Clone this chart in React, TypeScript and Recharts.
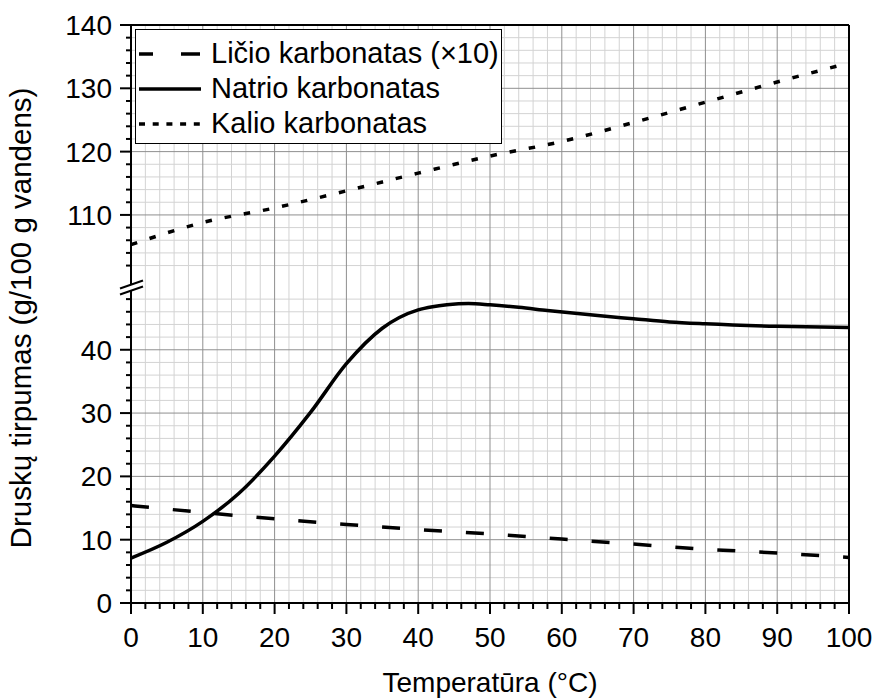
import {
  LineChart, Line, XAxis, YAxis, CartesianGrid, ReferenceLine, ReferenceDot, Legend,
} from 'recharts';

// Temperature (°C) and solubility (g / 100 g water)
const liTemps = [0, 10, 20, 30, 40, 50, 60, 70, 80, 90, 100];
const liValues = [15.4, 14.3, 13.3, 12.4, 11.6, 10.9, 10.1, 9.3, 8.5, 7.9, 7.2];

const naTemps = [0, 5, 10, 15, 20, 25, 30, 35, 40, 42, 44, 47, 50, 54, 58, 65, 70, 75, 80, 90, 100];
const naValues = [7.1, 9.6, 12.9, 17.3, 23.2, 30.1, 37.8, 43.4, 46.3, 46.8, 47.1, 47.3, 47.1, 46.7, 46.2, 45.4, 44.9, 44.4, 44.1, 43.7, 43.5];

const kTemps = [0, 10, 20, 30, 40, 50, 60, 70, 80, 90, 100];
const kValues = [105.3, 108.8, 111.1, 113.8, 116.6, 119.3, 121.6, 124.6, 127.8, 131.0, 134.0];

const xMajorTicks = [0, 10, 20, 30, 40, 50, 60, 70, 80, 90, 100];
const yLowerMajor = [0, 10, 20, 30, 40];
const yUpperMajor = [110, 120, 130, 140];

const seriesNames = ['Ličio karbonatas (×10)', 'Natrio karbonatas', 'Kalio karbonatas'];

// broken y axis: 0..50 drawn as is, 100..140 pulled down next to it
const BREAK_SHIFT = 48.7;
const yPos = (v: number) => (v >= 100 ? v - BREAK_SHIFT : v);
const yReal = (p: number) => Math.round(p > 50 ? p + BREAK_SHIFT : p);

const range = (from: number, to: number, step: number) => {
  const out: number[] = [];
  for (let v = from; v <= to + 1e-9; v += step) out.push(v);
  return out;
};

const xTicks = range(0, 100, 2);
const yTickValues = [...range(0, 48, 2), ...range(102, 140, 2)];
const yTicks = yTickValues.map(yPos);

const xMinorGrid = range(2, 98, 2).filter((v) => !xMajorTicks.includes(v));
const xMajorGrid = xMajorTicks.filter((v) => v > 0 && v < 100);
const yMinorGrid = yTickValues.filter((v) => v % 10 !== 0 && v !== 0).map(yPos);
const yMajorGrid = [...yLowerMajor, ...yUpperMajor].filter((v) => v > 0 && v < 140).map(yPos);

const toRows = (temps: number[], vals: number[]) =>
  temps.map((t, i) => ({ t, v: yPos(vals[i]) }));

const liData = toRows(liTemps, liValues);
const naData = toRows(naTemps, naValues);
const kData = toRows(kTemps, kValues);

const LI_DASH = '18 24';
const K_DASH = '6.5 13';
const FONT = '"Liberation Sans", Arial, sans-serif';

function XTick({ x, y, payload }: any) {
  const v = payload.value;
  const major = v % 10 === 0;
  return (
    <g>
      <line x1={x} x2={x} y1={y} y2={y + (major ? 11 : 6)} stroke="#000" strokeWidth={2} />
      {major && (
        <text x={x} y={y + 44} textAnchor="middle" fontSize={28} fill="#000" fontFamily={FONT}>
          {v}
        </text>
      )}
    </g>
  );
}

function YTick({ x, y, payload }: any) {
  const v = yReal(payload.value);
  const major = v % 10 === 0;
  return (
    <g>
      <line x1={x - (major ? 11 : 5)} x2={x} y1={y} y2={y} stroke="#000" strokeWidth={2} />
      {major && (
        <text x={x - 19} y={y + 10} textAnchor="end" fontSize={28} fill="#000" fontFamily={FONT}>
          {v}
        </text>
      )}
    </g>
  );
}

function BreakMark({ cx, cy }: any) {
  const up = (px: number) => cy + 2 - (8 * (px - (cx - 11))) / 23;
  const a = cx - 3;
  const b = cx + 3;
  return (
    <g>
      <polygon points={`${a},${up(a)} ${b},${up(b)} ${b},${up(b) + 6} ${a},${up(a) + 6}`} fill="#fff" />
      <line x1={cx - 11} y1={up(cx - 11)} x2={cx + 12} y2={up(cx + 12)} stroke="#000" strokeWidth={2} />
      <line x1={cx - 11} y1={up(cx - 11) + 6} x2={cx + 12} y2={up(cx + 12) + 6} stroke="#000" strokeWidth={2} />
    </g>
  );
}

function LegendBox() {
  const dashes = ['14 28 19', undefined, '6 7.7'];
  return (
    <div
      style={{
        width: 367, height: 115, boxSizing: 'border-box', border: '1px solid #000',
        background: '#fff', padding: '6px 0 2px 3px', fontFamily: FONT,
      }}
    >
      {seriesNames.map((name, i) => (
        <div key={name} style={{ display: 'flex', alignItems: 'center', height: 35 }}>
          <svg width={62} height={10} style={{ display: 'block' }}>
            <line x1={0} y1={5} x2={62} y2={5} stroke="#000" strokeWidth={3.5} strokeDasharray={dashes[i]} />
          </svg>
          <span style={{ marginLeft: 10, fontSize: 29, lineHeight: '35px', color: '#000', whiteSpace: 'nowrap' }}>
            {name}
          </span>
        </div>
      ))}
    </div>
  );
}

export default function App() {
  return (
    <div
      style={{
        position: 'absolute', left: 0, top: 0, width: 875, height: 699,
        background: '#fff', fontFamily: FONT,
      }}
    >
      <LineChart width={875} height={699} margin={{ top: 25, right: 26, bottom: 0, left: 0 }}>
        <CartesianGrid
          stroke="#d3d3d3"
          strokeWidth={1}
          horizontalValues={yMinorGrid}
          verticalValues={xMinorGrid}
        />
        <CartesianGrid
          stroke="#8f8f8f"
          strokeWidth={1}
          horizontalValues={yMajorGrid}
          verticalValues={xMajorGrid}
        />
        <XAxis
          dataKey="t"
          type="number"
          domain={[0, 100]}
          ticks={xTicks}
          interval={0}
          tickSize={0}
          tickMargin={0}
          tickLine={false}
          tick={<XTick />}
          height={96}
          axisLine={{ stroke: '#000', strokeWidth: 2 }}
          label={{ value: 'Temperatūra (°C)', position: 'insideBottom', offset: 7, fontSize: 28, fill: '#000' }}
        />
        <YAxis
          type="number"
          domain={[0, yPos(140)]}
          ticks={yTicks}
          interval={0}
          width={131}
          tickSize={0}
          tickMargin={0}
          tickLine={false}
          tick={<YTick />}
          axisLine={{ stroke: '#000', strokeWidth: 2 }}
          label={{
            value: 'Druskų tirpumas (g/100 g vandens)', angle: -90, position: 'insideLeft',
            offset: 21, dy: 4, fontSize: 29.5, fill: '#000', style: { textAnchor: 'middle' },
          }}
        />
        <ReferenceLine y={yPos(140)} stroke="#000" strokeWidth={2} />
        <ReferenceLine x={100} stroke="#000" strokeWidth={2} />
        <Line
          data={liData} dataKey="v" name={seriesNames[0]} type="monotone"
          stroke="#000" strokeWidth={3.5} strokeDasharray={LI_DASH}
          dot={false} activeDot={false} isAnimationActive={false}
        />
        <Line
          data={naData} dataKey="v" name={seriesNames[1]} type="monotone"
          stroke="#000" strokeWidth={3.5}
          dot={false} activeDot={false} isAnimationActive={false}
        />
        <Line
          data={kData} dataKey="v" name={seriesNames[2]} type="monotone"
          stroke="#000" strokeWidth={3.5} strokeDasharray={K_DASH}
          dot={false} activeDot={false} isAnimationActive={false}
        />
        <ReferenceDot x={0} y={50} r={0} ifOverflow="visible" shape={<BreakMark />} />
        <Legend
          layout="vertical"
          align="center"
          verticalAlign="middle"
          wrapperStyle={{ left: 135, top: 29, width: 367, height: 115 }}
          content={<LegendBox />}
        />
      </LineChart>
    </div>
  );
}
